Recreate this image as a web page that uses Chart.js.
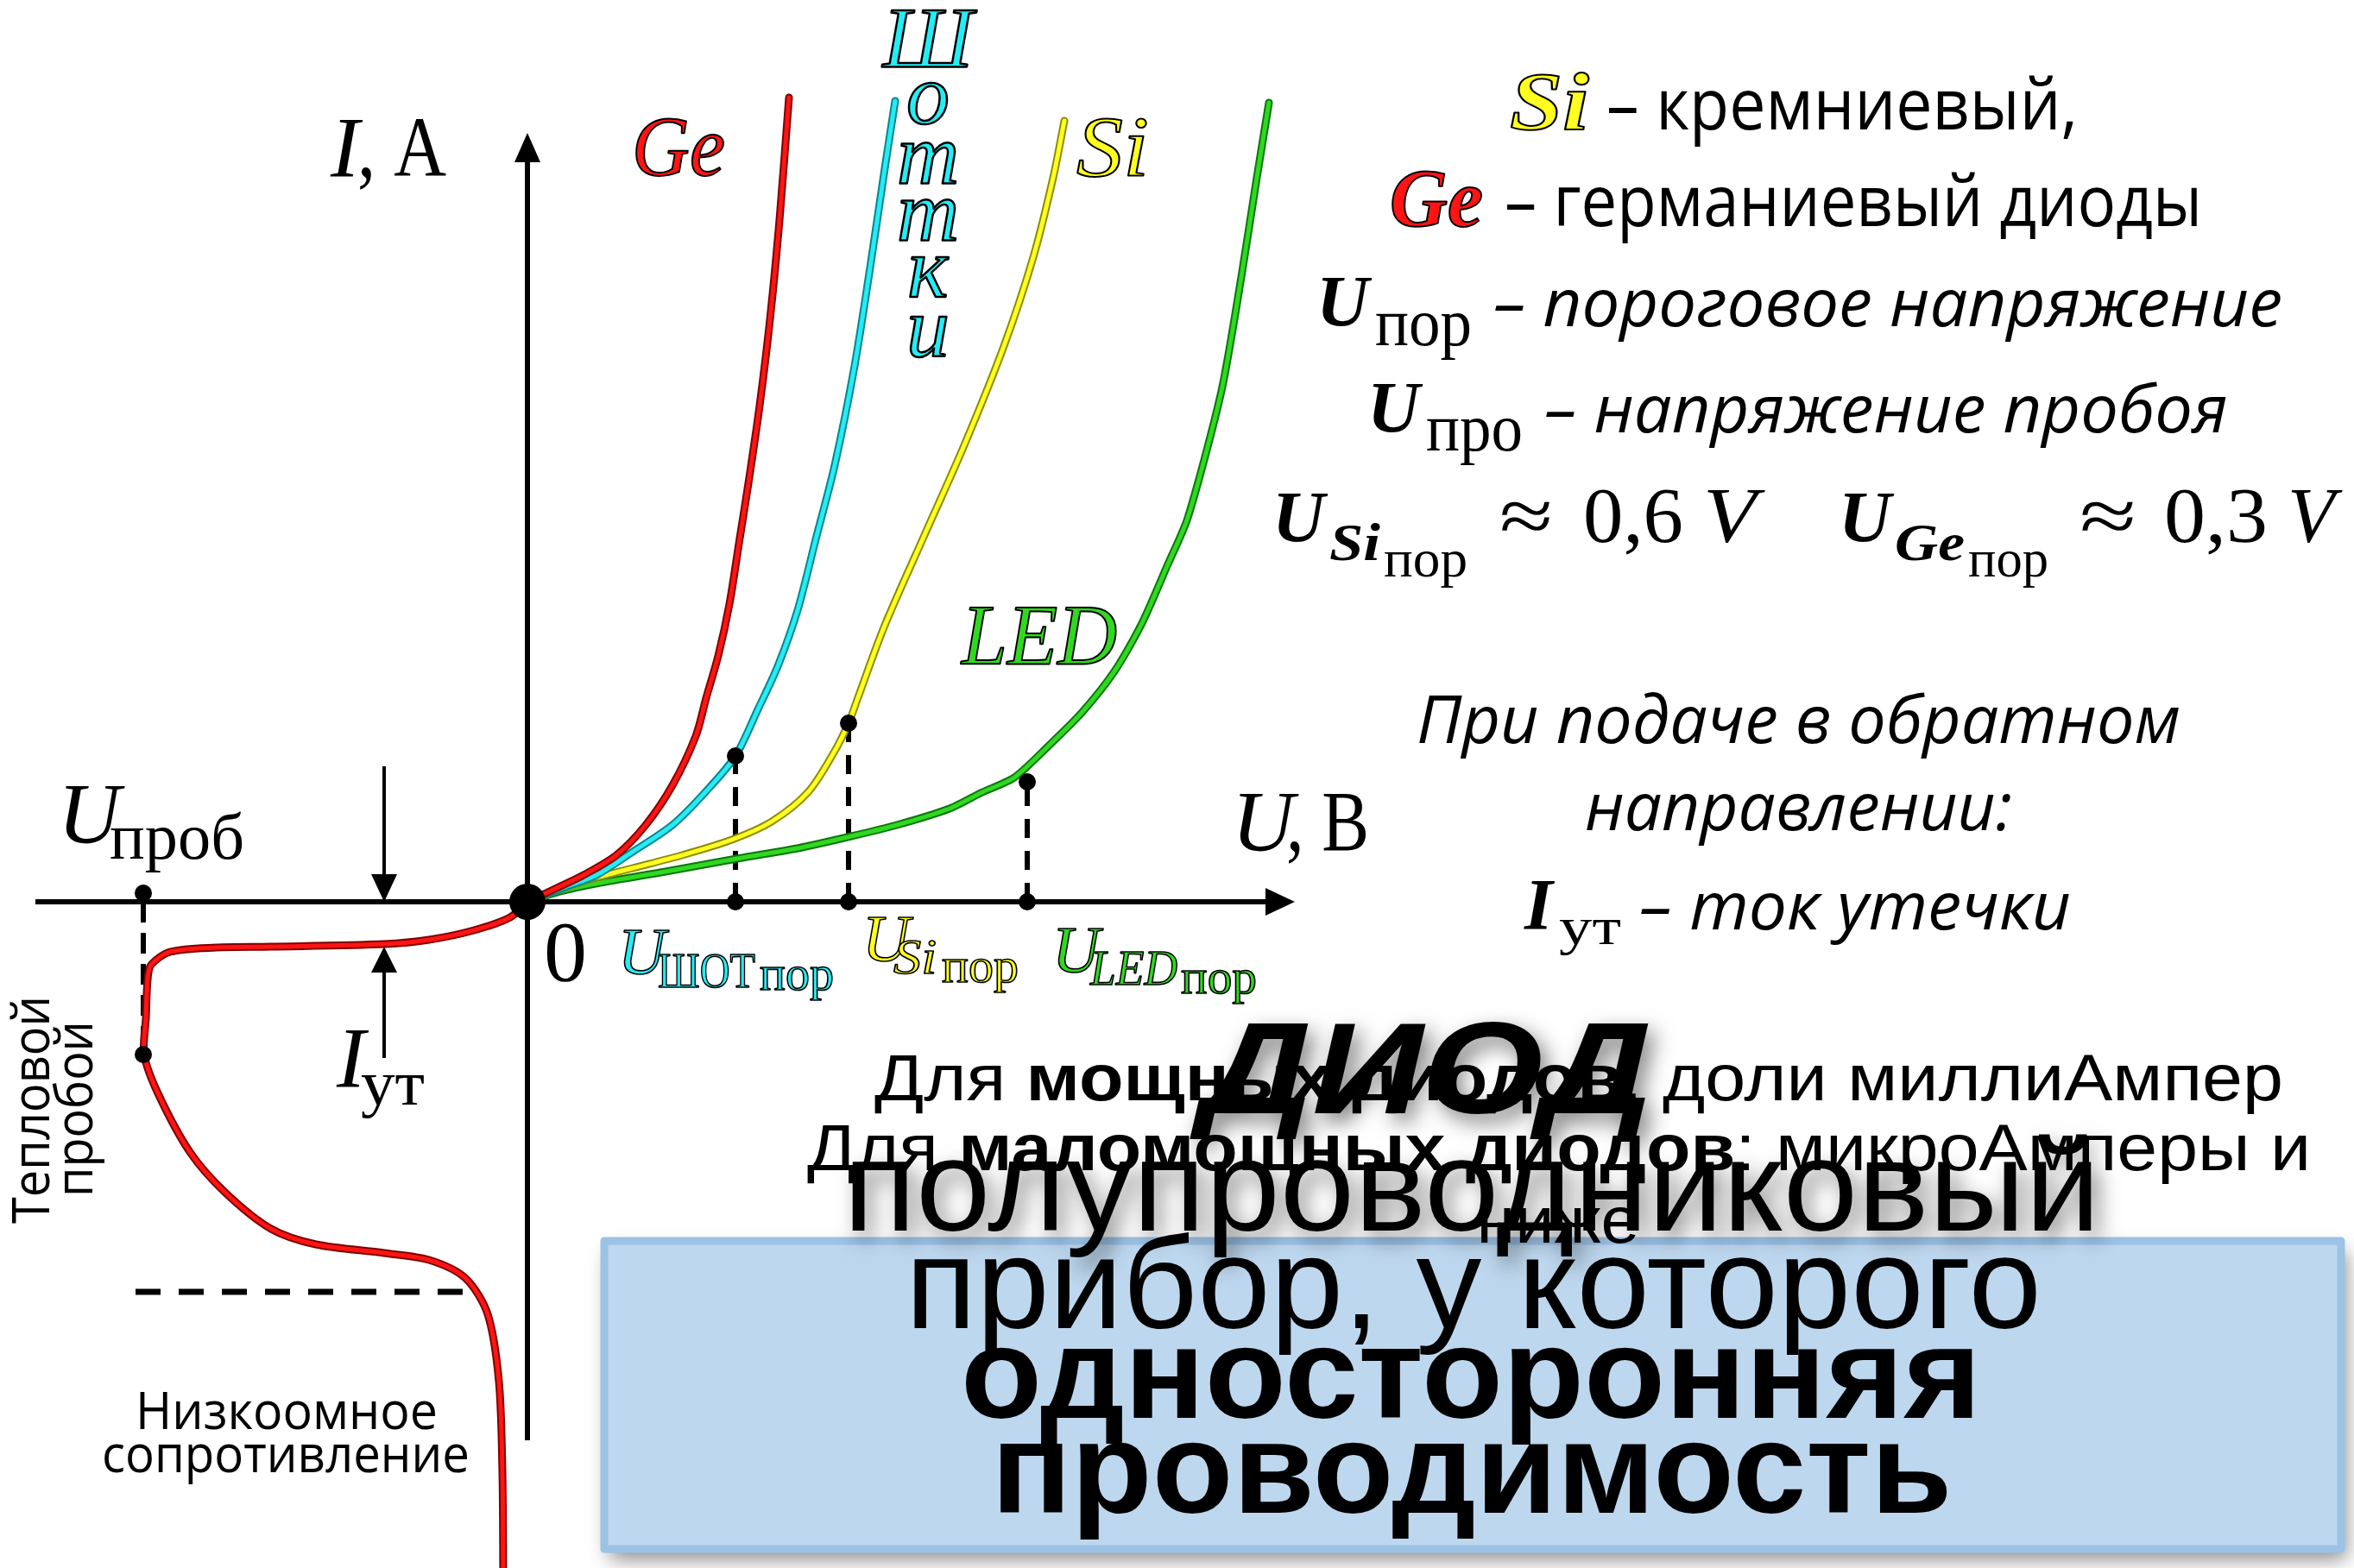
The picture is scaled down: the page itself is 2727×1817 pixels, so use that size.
<!DOCTYPE html>
<html>
<head>
<meta charset="utf-8">
<script src="https://cdn.jsdelivr.net/npm/chart.js@4"></script>
<style>
  html, body { margin: 0; padding: 0; background: #fff; }
  canvas { display: block; }
</style>
</head>
<body>
<canvas id="vac" width="2727" height="1817"></canvas>
<script>
// forward branches (U, I in plot units, origin at the axes crossing)
const geU  = [0, 0.34, 0.65, 1.03, 1.37, 1.68, 1.95, 2.07, 2.21, 2.34, 2.45, 2.56, 2.69, 2.81, 2.92, 3.03];
const geI  = [0, 0.16, 0.31, 0.54, 0.89, 1.35, 1.92, 2.36, 2.85, 3.45, 4.15, 4.85, 5.75, 6.75, 7.90, 9.32];
const schU = [0, 0.46, 0.80, 1.22, 1.68, 2.06, 2.41, 2.67, 2.90, 3.13, 3.34, 3.56, 3.79, 3.97, 4.14, 4.26];
const schI = [0, 0.18, 0.31, 0.58, 0.89, 1.27, 1.69, 2.23, 2.73, 3.38, 4.20, 5.06, 6.21, 7.35, 8.50, 9.28];
const siU  = [0, 0.65, 1.22, 1.79, 2.37, 2.83, 3.25, 3.55, 3.72, 3.82, 4.13, 4.60, 5.06, 5.52, 5.86, 6.09, 6.22];
const siI  = [0, 0.24, 0.39, 0.54, 0.72, 0.93, 1.27, 1.73, 2.07, 2.34, 3.18, 4.25, 5.29, 6.44, 7.47, 8.39, 9.05];
const ledU = [0, 0.38, 0.84, 1.60, 2.37, 3.13, 3.71, 4.28, 4.89, 5.27, 5.64, 6.04, 6.42, 6.80, 7.11, 7.41, 7.65, 8.04, 8.27, 8.44, 8.59];
const ledI = [0, 0.12, 0.22, 0.35, 0.49, 0.62, 0.75, 0.89, 1.08, 1.27, 1.44, 1.81, 2.19, 2.67, 3.21, 3.89, 4.45, 5.92, 7.24, 8.33, 9.26];

// reverse branch: leakage, thermal breakdown, low resistance
const revU = [0, -0.20, -0.62, -1.14, -1.66, -2.97, -3.61, -4.14, -4.36, -4.40, -4.42, -4.44, -4.28, -3.91, -3.50, -2.97, -2.45, -1.66, -1.14, -0.72, -0.46, -0.33, -0.29, -0.28];
const revI = [0, -0.18, -0.33, -0.44, -0.49, -0.52, -0.53, -0.58, -0.73, -0.90, -1.35, -1.77, -2.22, -2.90, -3.37, -3.79, -3.97, -4.07, -4.15, -4.36, -4.78, -5.56, -6.61, -7.85];

// threshold points: Schottky, Si, LED
const thresholdU = [2.41, 3.72, 5.79];
const thresholdI = [1.69, 2.07, 1.39];

// breakdown marks
const breakdownU = -4.45;
const breakdownTopI = 0.10;
const breakdownI = -1.77;
const lowResI = -4.52;
const lowResU = [-4.54, -0.72];

// leakage current arrows
const leakU = -1.66;
const leakI = -0.52;
const leakArrowI = [1.57, -1.81];

// axes extent
const axisU = [-5.70, 8.89];
const axisI = [-6.24, 8.91];

const SERIF = '"Liberation Serif", "DejaVu Serif", serif';
const SANS = '"Open Sans", "Noto Sans", sans-serif';
const ARIAL = '"Liberation Sans", Arial, sans-serif';

function pts(us, is) {
    return us.map((u, k) => ({ x: u, y: is[k] }));
}

function tube(us, is, edge, core, order, tension) {
    const d = pts(us, is);
    return [
        { data: d, showLine: true, borderColor: edge, borderWidth: 9, pointRadius: 0, tension: tension, order: order + 0.5, borderCapStyle: "round", borderJoinStyle: "round" },
        { data: d, showLine: true, borderColor: core, borderWidth: 5, pointRadius: 0, tension: tension, order: order, borderCapStyle: "round", borderJoinStyle: "round" }
    ];
}

function dashed(a, b, dash, width) {
    return { data: [a, b], showLine: true, borderColor: "#000", borderWidth: width, borderDash: dash, pointRadius: 0, order: 20 };
}

const datasets = [
    ...tube(geU, geI, "#7e0000", "#ff1414", 1, 0.3),
    ...tube(revU, revI, "#7e0000", "#ff1414", 1, 0.3),
    ...tube(schU, schI, "#08858d", "#25ecf4", 2, 0.3),
    ...tube(siU, siI, "#8c8c00", "#ffff20", 3, 0.3),
    ...tube(ledU, ledI, "#0a760a", "#30d820", 4, 0.25)
];

thresholdU.forEach((u, k) => {
    datasets.push(dashed({ x: u, y: 0 }, { x: u, y: thresholdI[k] }, [22, 15], 6));
});
datasets.push(dashed({ x: breakdownU, y: 0 }, { x: breakdownU, y: breakdownI }, [24, 12], 6));
datasets.push(dashed({ x: lowResU[0], y: lowResI }, { x: lowResU[1], y: lowResI }, [29, 21], 7));

// black dots
const dots = [];
thresholdU.forEach((u, k) => {
    dots.push({ x: u, y: thresholdI[k] });
    dots.push({ x: u, y: 0 });
});
dots.push({ x: breakdownU, y: breakdownTopI });
dots.push({ x: breakdownU, y: breakdownI });
datasets.push({ data: dots, pointRadius: 10, pointBackgroundColor: "#000", pointBorderWidth: 0, order: -1 });
datasets.push({ data: [{ x: 0, y: 0 }], pointRadius: 21, pointBackgroundColor: "#000", pointBorderWidth: 0, order: -2 });

function head(ctx, tx, ty, dx, dy, len, half) {
    const bx = tx - dx * len, by = ty - dy * len;
    ctx.beginPath();
    ctx.moveTo(tx, ty);
    ctx.lineTo(bx - dy * half, by + dx * half);
    ctx.lineTo(bx + dy * half, by - dx * half);
    ctx.closePath();
    ctx.fill();
}

function seg(ctx, x1, y1, x2, y2) {
    ctx.beginPath();
    ctx.moveTo(x1, y1);
    ctx.lineTo(x2, y2);
    ctx.stroke();
}

function label(ctx, str, x, y, font, color, w, stroke) {
    ctx.save();
    ctx.font = font;
    ctx.textAlign = "left";
    ctx.textBaseline = "alphabetic";
    const m = ctx.measureText(str).width;
    ctx.translate(x, y);
    if (w) ctx.scale(w / m, 1);
    ctx.fillStyle = color;
    ctx.fillText(str, 0, 0);
    if (stroke) {
        ctx.shadowColor = "transparent";
        ctx.lineWidth = stroke;
        ctx.lineJoin = "round";
        ctx.strokeStyle = "#000";
        ctx.strokeText(str, 0, 0);
    }
    ctx.restore();
}

function centered(ctx, str, cx, y, font, color, w) {
    label(ctx, str, cx - w / 2, y, font, color, w);
}

// a line made of runs with different fonts, squeezed to width w around cx
function runs(ctx, parts, cx, y, w) {
    ctx.save();
    let total = 0;
    const widths = parts.map(p => {
        ctx.font = p[1];
        const m = ctx.measureText(p[0]).width;
        total += m;
        return m;
    });
    ctx.translate(cx - w / 2, y);
    ctx.scale(w / total, 1);
    ctx.fillStyle = "#000";
    let pos = 0;
    parts.forEach((p, k) => {
        ctx.font = p[1];
        ctx.fillText(p[0], pos, 0);
        pos += widths[k];
    });
    ctx.restore();
}

function rotated(ctx, str, x, cy, font, w) {
    ctx.save();
    ctx.translate(x, cy);
    ctx.rotate(-Math.PI / 2);
    ctx.font = font;
    const m = ctx.measureText(str).width;
    ctx.scale(w / m, 1);
    ctx.textAlign = "center";
    ctx.fillStyle = "#000";
    ctx.fillText(str, 0, 0);
    ctx.restore();
}

const background = {
    id: "background",
    beforeDraw(chart) {
        const ctx = chart.ctx;
        ctx.save();
        ctx.fillStyle = "#fff";
        ctx.fillRect(0, 0, chart.width, chart.height);
        ctx.restore();
    }
};

const axes = {
    id: "axes",
    beforeDatasetsDraw(chart) {
        const { ctx, scales: { x, y } } = chart;
        const X = v => x.getPixelForValue(v), Y = v => y.getPixelForValue(v);
        ctx.save();
        ctx.strokeStyle = "#000";
        ctx.fillStyle = "#000";
        ctx.lineWidth = 6;
        seg(ctx, X(axisU[0]), Y(0), X(axisU[1]) - 20, Y(0));
        head(ctx, X(axisU[1]), Y(0), 1, 0, 34, 16);
        seg(ctx, X(0), Y(axisI[0]), X(0), Y(axisI[1]) + 20);
        head(ctx, X(0), Y(axisI[1]), 0, -1, 34, 15);

        // leakage current arrows
        ctx.lineWidth = 4;
        seg(ctx, X(leakU), Y(leakArrowI[0]), X(leakU), Y(0) - 20);
        head(ctx, X(leakU), Y(0), 0, 1, 32, 15);
        seg(ctx, X(leakU), Y(leakArrowI[1]), X(leakU), Y(leakI) + 20);
        head(ctx, X(leakU), Y(leakI), 0, -1, 30, 15);
        ctx.restore();
    }
};

const notes = {
    id: "notes",
    afterDatasetsDraw(chart) {
        const ctx = chart.ctx;
        const it = `italic 100px ${SERIF}`, rm = `100px ${SERIF}`;

        // axis names and curve names
        label(ctx, "I", 383, 204, it, "#000");
        label(ctx, ", A", 414, 204, rm, "#000", 103);
        label(ctx, "U", 1427, 985, it, "#000");
        label(ctx, ", B", 1490, 985, rm, "#000", 96);
        label(ctx, "0", 630, 1136, rm, "#000");
        label(ctx, "Ge", 732, 203, it, "#ff1414", 108, 2);
        label(ctx, "Si", 1247, 203, it, "#ffff20", 84, 2);
        label(ctx, "LED", 1114, 769, it, "#30d820", 180, 2);
        ctx.save();
        ctx.textAlign = "center";
        ctx.font = it;
        ctx.fillStyle = "#25ecf4";
        ctx.strokeStyle = "#000";
        ctx.lineWidth = 2.5;
        ctx.lineJoin = "round";
        ["Ш", "о", "т", "т", "к", "и"].forEach((ch, k) => {
            const by = [77, 143, 212, 278, 344, 413][k];
            ctx.fillText(ch, 1075, by);
            ctx.strokeText(ch, 1075, by);
        });
        ctx.restore();

        // threshold labels under the U axis
        const sub = `58px ${SERIF}`, subI = `italic 58px ${SERIF}`, por = `56px ${SERIF}`, u75 = `italic 76px ${SERIF}`;
        label(ctx, "U", 716, 1128, u75, "#25ecf4", null, 1.6);
        label(ctx, "ШОТ", 762, 1144, sub, "#25ecf4", 113, 1.6);
        label(ctx, "пор", 880, 1147, por, "#25ecf4", 86, 1.6);
        label(ctx, "U", 999, 1113, u75, "#ffff20", null, 1.6);
        label(ctx, "Si", 1035, 1128, subI, "#ffff20", 50, 1.6);
        label(ctx, "пор", 1091, 1138, por, "#ffff20", 89, 1.6);
        label(ctx, "U", 1219, 1126, u75, "#30d820", null, 1.6);
        label(ctx, "LED", 1263, 1141, subI, "#30d820", 101, 1.6);
        label(ctx, "пор", 1368, 1151, por, "#30d820", 88, 1.6);

        // reverse branch labels
        label(ctx, "U", 67, 976, it, "#000");
        label(ctx, "проб", 127, 995, `76px ${SERIF}`, "#000", 156);
        label(ctx, "I", 390, 1259, it, "#000");
        label(ctx, "ут", 418, 1280, `74px ${SERIF}`, "#000", 74);
        rotated(ctx, "Тепловой", 57, 1286, `60px ${SANS}`, 264);
        rotated(ctx, "пробой", 107, 1285, `60px ${SANS}`, 204);
        centered(ctx, "Низкоомное", 332, 1656, `60px ${SANS}`, "#000", 350);
        centered(ctx, "сопротивление", 331, 1706, `60px ${SANS}`, "#000", 426);

        // legend on the right
        const bi = `italic bold 84px ${SERIF}`, sbi = `italic bold 62px ${SERIF}`, sr = `62px ${SERIF}`;
        const tx = `82px ${SANS}`, ti = `italic 77px ${SANS}`;
        label(ctx, "Si", 1749, 150, `italic bold 95px ${SERIF}`, "#ffff20", 92, 2);
        label(ctx, "– кремниевый,", 1861, 150, tx, "#000", 546);
        label(ctx, "Ge", 1610, 262, `italic bold 95px ${SERIF}`, "#ff1414", 108, 2);
        label(ctx, "– германиевый диоды", 1743, 262, tx, "#000", 808);
        label(ctx, "U", 1525, 378, bi, "#000");
        label(ctx, "пор", 1593, 400, `78px ${SERIF}`, "#000", 112);
        label(ctx, "– пороговое напряжение", 1730, 378, ti, "#000", 914);
        label(ctx, "U", 1584, 501, bi, "#000");
        label(ctx, "про", 1652, 522, `78px ${SERIF}`, "#000", 112);
        label(ctx, "– напряжение пробоя", 1789, 501, ti, "#000", 792);

        label(ctx, "U", 1474, 628, bi, "#000");
        label(ctx, "Si", 1540, 649, sbi, "#000", 59);
        label(ctx, "пор", 1603, 668, sr, "#000", 97);
        label(ctx, "≈", 1737, 628, `90px ${SERIF}`, "#000", 62);
        label(ctx, "0,6", 1834, 628, `90px ${SERIF}`, "#000", 116);
        label(ctx, "V", 1973, 628, `italic 90px ${SERIF}`, "#000", 62);
        label(ctx, "U", 2130, 628, bi, "#000");
        label(ctx, "Ge", 2195, 649, sbi, "#000", 81);
        label(ctx, "пор", 2280, 668, sr, "#000", 93);
        label(ctx, "≈", 2409, 628, `90px ${SERIF}`, "#000", 66);
        label(ctx, "0,3", 2507, 628, `90px ${SERIF}`, "#000", 120);
        label(ctx, "V", 2650, 628, `italic 90px ${SERIF}`, "#000", 55);

        label(ctx, "При подаче в обратном", 1641, 861, ti, "#000", 885);
        label(ctx, "направлении:", 1836, 962, ti, "#000", 495);
        label(ctx, "I", 1766, 1077, bi, "#000");
        label(ctx, "ут", 1806, 1094, sr, "#000", 72);
        label(ctx, "– ток утечки", 1899, 1077, ti, "#000", 500);

        // definition box
        ctx.save();
        ctx.shadowColor = "rgba(0,0,0,0.45)";
        ctx.shadowBlur = 22;
        ctx.shadowOffsetX = 6;
        ctx.shadowOffsetY = 12;
        ctx.fillStyle = "#bdd7ee";
        ctx.fillRect(700, 1438, 2012, 357);
        ctx.restore();
        ctx.save();
        ctx.strokeStyle = "#9cc2e5";
        ctx.lineWidth = 9;
        ctx.lineJoin = "round";
        ctx.strokeRect(700, 1438, 2012, 357);
        ctx.restore();

        ctx.save();
        ctx.shadowColor = "rgba(0,0,0,0.5)";
        ctx.shadowBlur = 24;
        ctx.shadowOffsetX = 8;
        ctx.shadowOffsetY = 10;
        label(ctx, "ДИОД", 1391, 1290, `italic bold 150px ${ARIAL}`, "#000", 523);
        label(ctx, "полупроводниковый", 1705 - 728, 1426, `150px ${ARIAL}`, "#000", 1456);
        ctx.restore();

        const r = `76px ${ARIAL}`, b = `bold 76px ${ARIAL}`;
        runs(ctx, [["Для ", r], ["мощных диодов", b], [": доли миллиАмпер", r]], 1829, 1275, 1632);
        runs(ctx, [["Для ", r], ["маломощных диодов", b], [": микроАмперы и", r]], 1806, 1356, 1742);
        centered(ctx, "ниже", 1805, 1440, r, "#000", 189);

        centered(ctx, "прибор, у которого", 1707, 1539, `150px ${ARIAL}`, "#000", 1316);
        centered(ctx, "односторонняя", 1704, 1643, `bold 150px ${ARIAL}`, "#000", 1182);
        centered(ctx, "проводимость", 1705, 1753, `bold 150px ${ARIAL}`, "#000", 1113);
    }
};

new Chart(document.getElementById("vac"), {
    type: "scatter",
    data: { datasets: datasets },
    options: {
        responsive: false,
        animation: false,
        events: [],
        layout: { padding: 0, autoPadding: false },
        plugins: { legend: { display: false }, tooltip: { enabled: false } },
        scales: {
            x: { type: "linear", min: -6.11, max: 21.16, display: false },
            y: { type: "linear", min: -7.72, max: 10.45, display: false }
        }
    },
    plugins: [background, axes, notes]
});
</script>
</body>
</html>
